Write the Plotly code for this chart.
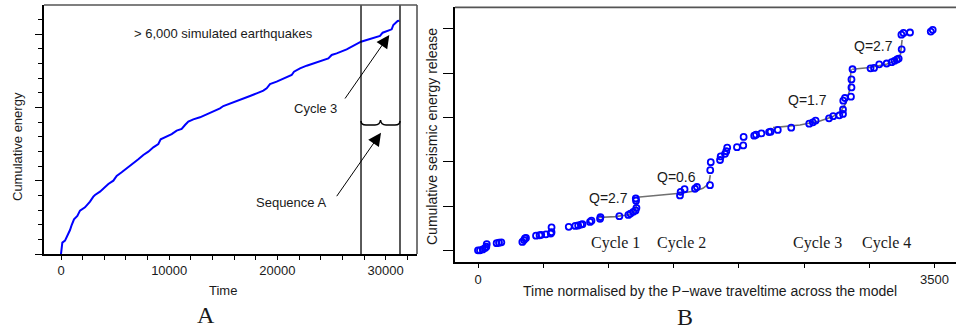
import plotly.graph_objects as go

W, H = 956, 331

# ---------------- Panel A: cumulative energy of simulated earthquakes ----------------
a_time = [0, 31, 123, 370, 524, 678, 832, 986, 1201, 1509, 1756, 2218, 2680, 2988, 3142,
          3604, 4066, 4374, 4836, 5144, 5606, 6068, 6684, 7146, 7608, 8070, 8532, 8994,
          9210, 9764, 10226, 10688, 11150, 11458, 11766, 12228, 12844, 13460, 14076,
          14692, 15000, 15616, 16233, 16849, 17465, 18081, 18697, 19004, 19312, 19928,
          20544, 21315, 21530, 22085, 22701, 23317, 23933, 24703, 25011, 25473, 26397,
          27721, 28245, 29015, 29477, 29723, 30247, 30555, 30709, 30955, 31109, 31263]
a_energy = [0, 0.077, 0.155, 0.182, 0.227, 0.282, 0.327, 0.395, 0.473, 0.518, 0.591, 0.636,
            0.714, 0.782, 0.805, 0.85, 0.918, 0.955, 1.0, 1.064, 1.114, 1.168, 1.227, 1.291,
            1.35, 1.395, 1.455, 1.5, 1.564, 1.6, 1.636, 1.682, 1.705, 1.759, 1.805, 1.836,
            1.864, 1.905, 1.941, 1.986, 2.018, 2.055, 2.091, 2.123, 2.155, 2.191, 2.227,
            2.259, 2.318, 2.35, 2.395, 2.441, 2.486, 2.532, 2.568, 2.6, 2.632, 2.668, 2.714,
            2.736, 2.791, 2.895, 2.918, 2.95, 2.973, 3.018, 3.045, 3.064, 3.123, 3.155,
            3.177, 3.182]
a_xticks = [0, 10000, 20000, 30000]
a_xticktext = ["0", "10000", "20000", "30000"]
a_seq_bounds = [27722, 31325]   # vertical lines bracketing sequence A

# ---------------- Panel B: seismic energy release of sequence A ----------------
b_time = [0, 15, 36, 54, 64, 67, 143, 161, 179, 340, 353, 360, 368, 445, 472, 485, 521,
          558, 564, 564, 696, 746, 768, 790, 801, 859, 870, 936, 939, 1084, 1153, 1169,
          1191, 1208, 1215, 1212, 1210, 1549, 1554, 1584, 1664, 1679, 1779, 1781, 1785,
          1856, 1861, 1894, 1904, 1911, 1986, 2034, 2037, 2118, 2132, 2173, 2232, 2244,
          2299, 2402, 2540, 2568, 2589, 2692, 2724, 2771, 2799, 2799, 2801, 2814, 2860,
          2864, 2864, 2872, 3010, 3037, 3077, 3134, 3172, 3194, 3213, 3226, 3249, 3247,
          3263, 3313, 3472, 3487]
b_energy = [0, 0.0, 0.02, 0.05, 0.08, 0.14, 0.16, 0.17, 0.18, 0.19, 0.23, 0.27, 0.28,
            0.33, 0.34, 0.35, 0.36, 0.38, 0.41, 0.52, 0.53, 0.55, 0.56, 0.58, 0.59, 0.64,
            0.67, 0.71, 0.75, 0.77, 0.80, 0.83, 0.87, 0.90, 0.96, 1.12, 1.17, 1.24, 1.32,
            1.38, 1.39, 1.43, 1.47, 1.81, 1.99, 2.04, 2.12, 2.18, 2.24, 2.32, 2.33, 2.37,
            2.56, 2.59, 2.61, 2.64, 2.67, 2.68, 2.72, 2.77, 2.86, 2.89, 2.93, 2.98, 3.03,
            3.05, 3.08, 3.18, 3.38, 3.44, 3.47, 3.68, 3.86, 4.09, 4.11, 4.12, 4.20, 4.22,
            4.25, 4.28, 4.31, 4.33, 4.54, 4.87, 4.91, 4.92, 4.94, 4.98]

fit1_t = [922, 1051, 1127, 1166, 1193, 1208, 1216, 1219]
fit1_e = [0.74, 0.76, 0.79, 0.82, 0.86, 0.93, 1.02, 1.11]
fit2_t = [1219, 1396, 1549, 1664, 1725, 1756, 1774, 1781]
fit2_e = [1.20, 1.24, 1.29, 1.34, 1.40, 1.47, 1.56, 1.70]
fit3_t = [2262, 2469, 2623, 2722, 2784, 2822, 2848, 2859, 2861]
fit3_e = [2.77, 2.83, 2.92, 3.02, 3.15, 3.33, 3.60, 3.91, 4.09]
fit4_t = [2870, 3006, 3137, 3213, 3240, 3248, 3252]
fit4_e = [4.09, 4.13, 4.21, 4.30, 4.43, 4.61, 4.75]

q_labels = ["Q=2.7", "Q=0.6", "Q=1.7", "Q=2.7"]
cycle_labels = ["Cycle 1", "Cycle 2", "Cycle 3", "Cycle 4"]
b_xticks = [0, 500, 1000, 1500, 2000, 2500, 3000, 3500]
b_xticktext = ["0", "", "", "", "", "", "", "3500"]

SANS = "Liberation Sans, Arial, sans-serif"
SERIF = "Liberation Serif, Times New Roman, serif"
TXT = "#1a1a1a"


def px(x):
    return x / W


def py(y):
    return 1 - y / H


def label(text, x, y, family=SANS, size=13, angle=0):
    return dict(text=text, x=px(x), y=py(y), xref="paper", yref="paper",
                xanchor="center", yanchor="middle", showarrow=False, textangle=angle,
                font=dict(family=family, size=size, color=TXT))


fig = go.Figure()

# Panel A line
fig.add_trace(go.Scatter(x=a_time, y=a_energy, mode="lines",
                         line=dict(color="#0000ff", width=2),
                         xaxis="x", yaxis="y", showlegend=False, hoverinfo="skip"))

# Panel B fitted curves
for ft, fe in [(fit1_t, fit1_e), (fit2_t, fit2_e), (fit3_t, fit3_e), (fit4_t, fit4_e)]:
    fig.add_trace(go.Scatter(x=ft, y=fe, mode="lines", line=dict(color="#707070", width=1.6),
                             xaxis="x2", yaxis="y2", showlegend=False, hoverinfo="skip"))

# Panel B points
fig.add_trace(go.Scatter(x=b_time, y=b_energy, mode="markers",
                         marker=dict(symbol="circle-open", size=6, color="#0000ff",
                                     line=dict(width=1.8, color="#0000ff")),
                         xaxis="x2", yaxis="y2", showlegend=False, hoverinfo="skip"))

shapes = []
for xb in a_seq_bounds:
    shapes.append(dict(type="line", xref="x", yref="y domain", x0=xb, x1=xb, y0=0, y1=1,
                       line=dict(color="black", width=1.3)))
brace = ("M 27722,1.814 Q 27722,1.759 28184,1.759 L 29015,1.759 Q 29477,1.759 29523,1.827 "
         "Q 29570,1.759 30032,1.759 L 30863,1.759 Q 31325,1.759 31325,1.814")
shapes.append(dict(type="path", xref="x", yref="y", path=brace,
                   line=dict(color="black", width=1.5)))
shapes.append(dict(type="line", xref="x domain", yref="y domain", x0=0, x1=1, y0=1, y1=1,
                   line=dict(color="#555555", width=1.6)))
shapes.append(dict(type="line", xref="x domain", yref="y domain", x0=1, x1=1, y0=0, y1=1,
                   line=dict(color="#555555", width=1.6)))
shapes.append(dict(type="line", xref="x2 domain", yref="y2 domain", x0=0, x1=1, y0=1, y1=1,
                   line=dict(color="#555555", width=1.8)))

ann = []
ann.append(label("> 6,000 simulated earthquakes", 223, 33.5))
ann.append(label("Cycle 3", 315.3, 108.3))
ann.append(label("Sequence A", 291.2, 202.3))
ann.append(dict(text="", x=30336, y=2.987, ax=26150, ay=2.10, xref="x", yref="y",
                axref="x", ayref="y", showarrow=True, arrowhead=2, arrowsize=2.6,
                arrowwidth=1, arrowcolor="black"))
ann.append(dict(text="", x=29570, y=1.654, ax=25383, ay=0.768, xref="x", yref="y",
                axref="x", ayref="y", showarrow=True, arrowhead=2, arrowsize=2.6,
                arrowwidth=1, arrowcolor="black"))
ann.append(label("Cumulative energy", 17, 147, angle=-90))
ann.append(label("Time", 222.7, 290))
ann.append(label("A", 206, 315, family=SERIF, size=24))

q_pos = [(608.7, 197.7), (676.4, 177.3), (807, 100), (873, 46)]
for lab, (qx, qy) in zip(q_labels, q_pos):
    ann.append(label(lab, qx, qy, size=14))
c_pos = [615.9, 681.5, 817.6, 886.7]
for lab, cx in zip(cycle_labels, c_pos):
    ann.append(label(lab, cx, 243.3, family=SERIF, size=16))
ann.append(label("Cumulative seismic energy release", 432, 137, size=14, angle=-90))
ann.append(label("Time normalised by the P\u2212wave traveltime across the model", 710, 290.7,
                 size=14))
ann.append(label("B", 685, 317, family=SERIF, size=24))

fig.update_layout(
    width=W, height=H, margin=dict(l=0, r=0, t=0, b=0, pad=0),
    paper_bgcolor="white", plot_bgcolor="white",
    showlegend=False, shapes=shapes, annotations=ann,
    xaxis=dict(domain=[px(44), px(417)], range=[-1571, 32896], anchor="y",
               tickvals=a_xticks, ticktext=a_xticktext, ticks="outside", ticklen=4,
               tickwidth=1, tickcolor="black",
               minor=dict(dtick=2000, tick0=0, ticks="outside", ticklen=4, tickwidth=1,
                          tickcolor="black"),
               showline=True, linecolor="black", linewidth=1.5, showgrid=False,
               zeroline=False, tickfont=dict(family=SANS, size=13, color=TXT)),
    yaxis=dict(domain=[py(254), py(5)], range=[0, 3.3956], anchor="x",
               dtick=1, tick0=0, ticks="outside", ticklen=7, tickwidth=1, tickcolor="black",
               minor=dict(dtick=0.2, tick0=0, ticks="outside", ticklen=4, tickwidth=1,
                          tickcolor="black"),
               showticklabels=False, showline=True, linecolor="black", linewidth=1.5,
               showgrid=False, zeroline=False),
    xaxis2=dict(domain=[px(455), 1.0], range=[-176.4, 3665.6], anchor="y2",
                tickvals=b_xticks, ticktext=b_xticktext, ticks="outside", ticklen=5,
                tickwidth=1, tickcolor="black", showline=True, linecolor="black",
                linewidth=1.5, showgrid=False, zeroline=False,
                tickfont=dict(family=SANS, size=13, color=TXT)),
    yaxis2=dict(domain=[py(261.7), py(7.3)], range=[-0.2575, 5.489], anchor="x2",
                tickvals=[0, 1, 2, 3, 4, 5], ticks="outside", ticklen=10, tickwidth=1,
                tickcolor="black", showticklabels=False, showline=True, linecolor="black",
                linewidth=1.5, showgrid=False, zeroline=False),
)

fig.write_html("out.html", config={"displayModeBar": False},
               post_script="document.body.style.margin='0px';")
